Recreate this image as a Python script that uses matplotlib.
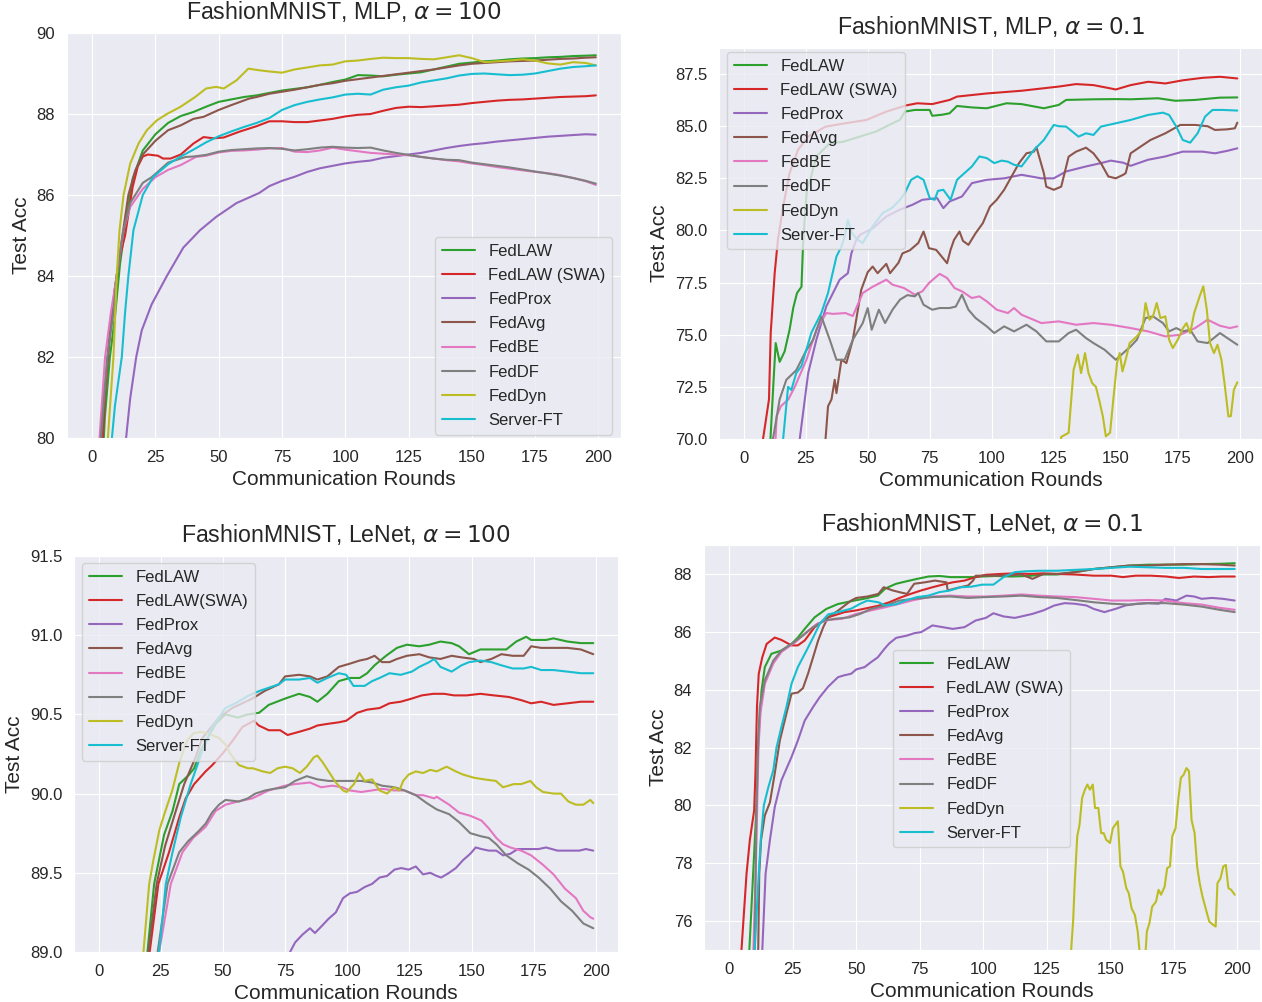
import matplotlib
matplotlib.use('Agg')
import matplotlib.pyplot as plt
import seaborn as sns

sns.set_style('darkgrid')
plt.rcParams['font.family'] = ['Liberation Sans', 'DejaVu Sans']

# ---- FashionMNIST, MLP, alpha = 100 : (round, test acc) ----
mlp100_fedlaw = [(1, 74.0), (3, 78.0), (5, 80.5), (7, 82.0), (9, 83.0), (11, 84.3), (13, 85.2), (16, 86.4), (20, 87.1),
                 (25, 87.5), (30, 87.78), (35, 87.95), (40, 88.05), (45, 88.18), (50, 88.3), (55, 88.36), (60, 88.42),
                 (65, 88.46), (70, 88.52), (75, 88.58), (80, 88.62), (85, 88.66), (90, 88.72), (95, 88.79), (100, 88.85),
                 (105, 88.96), (110, 88.95), (115, 88.93), (120, 88.97), (125, 89.0), (130, 89.03), (135, 89.1),
                 (140, 89.17), (145, 89.24), (150, 89.27), (155, 89.3), (160, 89.32), (165, 89.35), (170, 89.37),
                 (175, 89.38), (180, 89.4), (185, 89.41), (190, 89.43), (195, 89.44), (199, 89.45)]
mlp100_swa = [(1, 74.0), (3, 78.5), (5, 81.0), (7, 82.6), (9, 83.7), (11, 84.5), (13, 85.0), (16, 86.2), (18, 86.7),
              (20, 86.95), (22, 87.0), (26, 86.97), (28, 86.9), (31, 86.9), (35, 87.0), (40, 87.27), (44, 87.43),
              (48, 87.4), (52, 87.42), (58, 87.56), (65, 87.7), (70, 87.82), (75, 87.82), (80, 87.8), (85, 87.8),
              (90, 87.84), (95, 87.88), (100, 87.94), (105, 87.98), (110, 88.0), (115, 88.08), (120, 88.15),
              (125, 88.18), (130, 88.17), (135, 88.19), (140, 88.21), (145, 88.23), (150, 88.27), (155, 88.3),
              (160, 88.33), (165, 88.35), (170, 88.36), (175, 88.38), (180, 88.4), (185, 88.42), (190, 88.43),
              (195, 88.44), (199, 88.46)]
mlp100_fedprox = [(1, 68.0), (3, 70.0), (5, 72.0), (7, 74.0), (9, 75.8), (11, 77.5), (13.4, 80.0), (15, 80.97),
                  (17.4, 82.0), (19.6, 82.66), (23.5, 83.3), (29.5, 84.0), (36, 84.7), (42.6, 85.13), (49, 85.46),
                  (57, 85.8), (66, 86.05), (70, 86.22), (75, 86.35), (80, 86.45), (85, 86.57), (90, 86.66), (95, 86.72),
                  (100, 86.78), (105, 86.82), (110, 86.85), (115, 86.92), (120, 86.96), (125, 87.0), (130, 87.04),
                  (135, 87.1), (140, 87.16), (145, 87.21), (150, 87.25), (155, 87.28), (160, 87.32), (165, 87.35),
                  (170, 87.38), (175, 87.41), (180, 87.44), (185, 87.46), (190, 87.48), (195, 87.5), (199, 87.49)]
mlp100_fedavg = [(1, 74.0), (3, 79.0), (5, 81.2), (7, 82.6), (9, 83.7), (11, 84.6), (14.3, 86.0), (17, 86.6), (20, 87.0),
                 (25, 87.34), (30, 87.6), (35, 87.72), (40, 87.88), (44, 87.93), (50, 88.1), (55, 88.22), (62, 88.38),
                 (65, 88.42), (70, 88.5), (75, 88.55), (80, 88.6), (85, 88.66), (90, 88.72), (95, 88.76), (100, 88.82),
                 (105, 88.86), (110, 88.9), (115, 88.94), (120, 88.98), (125, 89.02), (130, 89.06), (135, 89.1),
                 (140, 89.15), (145, 89.2), (150, 89.24), (155, 89.26), (160, 89.28), (165, 89.3), (170, 89.31),
                 (175, 89.32), (180, 89.34), (185, 89.36), (190, 89.37), (195, 89.39), (199, 89.4)]
mlp100_fedbe = [(1, 76.0), (2.9, 80.0), (5.1, 82.0), (7.4, 83.1), (9.7, 84.0), (12.4, 85.13), (15, 85.7), (18.3, 86.0),
                (20, 86.15), (25, 86.44), (30, 86.62), (35, 86.74), (41, 86.94), (45, 86.97), (50, 87.05), (55, 87.09),
                (60, 87.1), (65, 87.12), (70, 87.15), (75, 87.16), (80, 87.07), (85, 87.06), (90, 87.1), (95, 87.17),
                (100, 87.12), (105, 87.08), (110, 87.04), (115, 87.02), (120, 87.0), (125, 86.98), (130, 86.94),
                (135, 86.9), (140, 86.86), (145, 86.83), (150, 86.78), (155, 86.74), (160, 86.69), (165, 86.65),
                (170, 86.61), (175, 86.57), (180, 86.54), (185, 86.49), (190, 86.42), (195, 86.34), (199, 86.25)]
mlp100_feddf = [(1, 75.5), (3.4, 80.0), (6, 82.0), (8.4, 83.1), (9.7, 84.0), (12.4, 85.13), (15, 85.8), (17, 86.0),
                (20, 86.3), (23.5, 86.44), (30, 86.8), (37, 86.94), (40, 86.95), (45, 86.99), (50, 87.07), (55, 87.11),
                (60, 87.13), (65, 87.15), (70, 87.16), (75, 87.14), (80, 87.1), (85, 87.13), (90, 87.17), (95, 87.19),
                (100, 87.17), (105, 87.16), (110, 87.17), (115, 87.1), (120, 87.04), (125, 86.99), (130, 86.94),
                (135, 86.9), (140, 86.87), (145, 86.86), (150, 86.8), (155, 86.76), (160, 86.72), (165, 86.68),
                (170, 86.63), (175, 86.58), (180, 86.53), (185, 86.48), (190, 86.42), (195, 86.35), (199, 86.28)]
mlp100_feddyn = [(1, 72.0), (3, 75.0), (6.2, 80.0), (8.4, 82.0), (9.7, 84.0), (10.8, 85.13), (12.4, 86.0), (15, 86.77),
                 (18.3, 87.27), (21.6, 87.6), (25.5, 87.84), (29.5, 88.0), (34.7, 88.17), (40.7, 88.42), (45, 88.63),
                 (49, 88.67), (52, 88.63), (57, 88.83), (61.7, 89.12), (66, 89.08), (70, 89.05), (75, 89.02), (80, 89.1),
                 (85, 89.15), (90, 89.2), (95, 89.22), (100, 89.3), (105, 89.32), (110, 89.36), (115, 89.39),
                 (120, 89.38), (125, 89.38), (130, 89.36), (135, 89.35), (140, 89.4), (145, 89.45), (150, 89.38),
                 (155, 89.28), (160, 89.3), (165, 89.32), (170, 89.35), (175, 89.32), (180, 89.25), (185, 89.22),
                 (190, 89.28), (195, 89.26), (199, 89.2)]
mlp100_serverft = [(1, 70.0), (3, 73.0), (5, 76.0), (7.8, 80.0), (9, 80.8), (11.7, 82.0), (13, 83.1), (14.3, 84.0),
                   (16.3, 85.13), (20, 86.0), (24, 86.44), (30, 86.76), (34.7, 86.94), (40, 87.12), (45, 87.3),
                   (50, 87.45), (55, 87.57), (60, 87.68), (65, 87.78), (70, 87.9), (75, 88.1), (80, 88.22), (85, 88.3),
                   (90, 88.36), (95, 88.41), (100, 88.48), (105, 88.5), (110, 88.48), (115, 88.6), (120, 88.66),
                   (125, 88.7), (130, 88.78), (135, 88.83), (140, 88.88), (145, 88.95), (150, 88.99), (155, 89.0),
                   (160, 88.98), (165, 88.96), (170, 88.97), (175, 89.0), (180, 89.06), (185, 89.12), (190, 89.16),
                   (195, 89.18), (199, 89.2)]

# ---- FashionMNIST, MLP, alpha = 0.1 ----
mlp01_fedlaw = [(0, 50.0), (10.8, 70.0), (12, 72.7), (12.9, 74.6), (14.5, 73.7), (16.5, 74.2), (18.5, 75.24),
                (20, 76.3), (21.5, 77.0), (23.3, 77.3), (24, 79.55), (25.5, 82.0), (27, 82.5), (29.3, 83.55),
                (34.7, 84.18), (40, 84.25), (46.8, 84.5), (53.5, 84.75), (60, 85.14), (63, 85.3), (65, 85.7),
                (69, 85.78), (75, 85.78), (76, 85.5), (80, 85.55), (83, 85.62), (86, 85.97), (92, 85.9), (98, 85.86),
                (106, 86.1), (112, 86.06), (121, 85.86), (127, 86.02), (130, 86.26), (141, 86.29), (150, 86.3),
                (156, 86.29), (167, 86.34), (174, 86.22), (182, 86.26), (192, 86.37), (199, 86.38)]
mlp01_swa = [(0, 50.0), (7.8, 70.0), (10.2, 71.9), (10.9, 75.1), (12.5, 77.96), (13.8, 79.55), (15.9, 81.15),
             (18.5, 82.75), (21.9, 83.87), (26, 84.5), (33, 84.98), (41, 85.14), (49.5, 85.3), (57.5, 85.7),
             (65.6, 86.0), (70, 86.1), (76, 86.06), (83, 86.26), (86, 86.42), (98, 86.57), (112, 86.7), (127, 86.9),
             (134, 87.02), (141, 86.97), (148, 86.81), (150, 86.76), (156, 86.97), (163, 87.13), (170, 87.05),
             (177, 87.2), (185, 87.32), (192, 87.37), (199, 87.29)]
mlp01_fedprox = [(0, 50.0), (22.6, 70.0), (26, 73.16), (29.3, 74.76), (33.3, 76.36), (38.7, 77.64), (42, 77.95),
                 (43.4, 78.9), (45.4, 79.55), (47, 79.8), (52, 80.1), (57.5, 80.67), (63, 81.0), (68, 81.23),
                 (72, 81.47), (78, 81.55), (80.5, 81.07), (83, 81.39), (88, 81.63), (92, 82.27), (98, 82.43),
                 (105, 82.5), (112, 82.67), (120, 82.5), (125, 82.5), (130, 82.83), (138, 83.07), (144, 83.23),
                 (148, 83.35), (153, 83.25), (156, 83.1), (163, 83.39), (170, 83.55), (177, 83.78), (185, 83.78),
                 (190, 83.7), (195, 83.82), (199, 83.94)]
mlp01_fedavg = [(0, 50.0), (33, 70.0), (34, 71.57), (35.4, 71.9), (36.7, 72.84), (37.4, 72.2), (39.4, 73.8),
                (41.4, 73.64), (44, 74.76), (47.4, 77.16), (50, 78.0), (52, 78.27), (54, 77.95), (57.5, 78.4),
                (59, 77.95), (62.4, 78.45), (64, 78.9), (67, 79.05), (70.4, 79.4), (72.5, 79.95), (74.7, 79.15),
                (77.6, 79.07), (79.8, 78.75), (82, 78.43), (83.4, 79.07), (84.8, 79.55), (87, 79.95), (88.4, 79.5),
                (90.6, 79.31), (93.5, 79.87), (96.4, 80.35), (99.3, 81.15), (102, 81.47), (105, 81.95), (108, 82.59),
                (111, 83.23), (114, 83.7), (117, 83.78), (118, 84.0), (121, 82.75), (122, 82.1), (125, 81.95),
                (128, 82.1), (131, 83.54), (134, 83.78), (138, 83.97), (141, 83.7), (144, 83.23), (147, 82.59),
                (150, 82.5), (153, 82.67), (154, 82.75), (156, 83.7), (160, 84.02), (164, 84.34), (170, 84.66),
                (176, 85.06), (182, 85.06), (187, 85.0), (190, 84.82), (195, 84.85), (198, 84.9), (199, 85.17)]
mlp01_fedbe = [(0, 50.0), (12, 68.0), (13.3, 71.1), (15, 71.57), (18, 71.9), (20.6, 72.5), (25.3, 73.8), (29.3, 75.24),
               (33.3, 76.04), (36, 76.0), (41, 76.04), (44, 75.9), (48, 77.0), (52, 77.3), (57.5, 77.64), (60, 77.4),
               (64.6, 77.24), (69, 76.92), (72, 77.08), (74.7, 77.48), (79, 77.92), (82, 77.72), (85, 77.24),
               (88, 77.08), (92, 76.76), (95, 76.84), (98, 76.6), (102, 76.2), (106.5, 76.04), (109, 76.28),
               (112, 75.96), (120, 75.56), (127, 75.64), (134, 75.48), (141, 75.56), (148, 75.48), (156, 75.32),
               (163, 75.16), (170, 74.92), (176, 75.0), (182, 75.32), (187, 75.72), (192, 75.43), (196, 75.32),
               (199, 75.4)]
mlp01_feddf = [(0, 50.0), (11.8, 70.0), (14.5, 71.9), (17.2, 72.84), (21.2, 73.3), (25, 74.2), (28, 74.76),
               (31.3, 75.88), (34.7, 74.76), (37.4, 73.8), (40.7, 73.8), (44, 74.76), (48, 75.56), (50, 76.28),
               (51.6, 75.24), (54.5, 76.2), (57, 75.56), (60, 76.2), (63, 76.68), (66, 76.9), (69, 76.84),
               (70.4, 77.0), (72.5, 76.44), (76, 76.2), (79, 76.28), (83, 76.28), (85.5, 76.35), (88, 76.92),
               (90.6, 76.2), (93.5, 75.8), (98, 75.4), (101, 75.08), (105, 75.4), (109, 75.16), (114, 75.48),
               (118, 75.16), (122, 74.68), (127, 74.68), (131, 75.08), (134, 75.24), (138, 74.84), (141, 74.6),
               (145.5, 74.28), (150, 73.8), (153, 74.12), (156, 74.44), (158.5, 74.76), (162, 75.8), (165, 75.88),
               (169, 75.56), (171.5, 75.16), (174.4, 75.32), (177, 75.16), (180, 75.24), (183, 74.68), (187, 74.6),
               (192, 75.08), (195, 74.84), (199, 74.52)]
mlp01_feddyn = [(0, 50.0), (120, 62.0), (128, 70.1), (131, 70.3), (133, 73.32), (134.7, 74.04), (136, 73.16),
                (137.6, 74.12), (139, 73.16), (140.5, 72.68), (142, 72.5), (143.3, 71.88), (144.8, 71.08), (146, 70.13),
                (147.7, 70.3), (149, 71.88), (150.5, 73.64), (151.6, 74.12), (152.7, 73.24), (154, 73.8), (155.6, 74.6),
                (158.5, 74.92), (160.7, 75.24), (162, 76.52), (163.6, 75.72), (165, 75.88), (166.5, 76.52), (168, 75.8),
                (170, 75.88), (171.5, 74.76), (173, 74.36), (175, 74.76), (177, 75.3), (178.5, 75.56), (180, 75.08),
                (181.6, 76.04), (183.8, 76.84), (185.3, 77.32), (186.7, 76.2), (188, 74.6), (189.6, 74.12),
                (191, 74.52), (192.6, 73.8), (194, 72.52), (195.4, 71.08), (196.4, 71.1), (197.6, 72.36), (199, 72.72)]
mlp01_serverft = [(0, 50.0), (15.9, 70.0), (17.9, 72.5), (19.2, 72.35), (21.2, 73.16), (23.3, 73.5), (27.3, 75.1),
                  (31.3, 76.04), (34, 77.0), (37.4, 78.75), (39.4, 79.23), (40.7, 79.7), (42, 80.5), (43.6, 79.87),
                  (46, 79.55), (48, 79.4), (52, 80.2), (56, 80.83), (60, 81.1), (63, 81.47), (65, 81.8), (67.5, 82.43),
                  (70, 82.6), (72.5, 82.43), (75, 81.55), (77, 81.47), (78.3, 81.9), (80.5, 81.95), (83.4, 81.47),
                  (86, 82.43), (92, 83.07), (95, 83.55), (98, 83.47), (101, 83.23), (104, 83.35), (106.5, 83.3),
                  (109, 83.15), (112, 83.07), (117, 83.86), (121, 84.34), (125, 85.06), (127, 85.0), (130, 84.98),
                  (132.5, 84.74), (135, 84.5), (138, 84.66), (141, 84.58), (144, 84.98), (150, 85.14), (156, 85.3),
                  (163, 85.54), (169, 85.65), (171.5, 85.54), (174.4, 84.98), (177, 84.34), (180, 84.21), (183, 84.66),
                  (186, 85.46), (189, 85.78), (193, 85.78), (199, 85.75)]

# ---- FashionMNIST, LeNet, alpha = 100 ----
lenet100_fedlaw = [(0, 70.0), (19.6, 89.0), (22.3, 89.43), (26.3, 89.74), (29.7, 89.89), (32.4, 90.06), (36.4, 90.12),
                   (38.4, 90.16), (41, 90.27), (47, 90.44), (51, 90.5), (56, 90.48), (60, 90.5), (64.5, 90.51),
                   (68.4, 90.56), (75, 90.6), (80.6, 90.63), (85, 90.61), (88, 90.58), (92, 90.63), (96.6, 90.71),
                   (101, 90.73), (105, 90.73), (108, 90.76), (111, 90.81), (115.6, 90.87), (120, 90.92), (124, 90.94),
                   (129, 90.93), (133, 90.94), (137.5, 90.96), (142, 90.95), (145, 90.93), (149, 90.88), (153.6, 90.91),
                   (159, 90.91), (164, 90.91), (168, 90.96), (172, 90.99), (174, 90.97), (180, 90.97), (183, 90.98),
                   (188.6, 90.96), (194, 90.95), (199, 90.95)]
lenet100_swa = [(0, 70.0), (20.5, 89.0), (24, 89.43), (28.3, 89.63), (32.4, 89.85), (35, 89.97), (38.4, 90.06),
                (43, 90.14), (45.7, 90.18), (49.7, 90.25), (53.7, 90.33), (57.8, 90.42), (62.4, 90.46), (64.4, 90.43),
                (68.4, 90.4), (73, 90.4), (76, 90.37), (80.6, 90.39), (85, 90.41), (88, 90.43), (92, 90.44),
                (96.6, 90.45), (99.6, 90.46), (104, 90.51), (108, 90.53), (113, 90.54), (117, 90.57), (121.5, 90.58),
                (126, 90.6), (130, 90.62), (134.6, 90.63), (139, 90.63), (143, 90.62), (148, 90.62), (153.6, 90.63),
                (159, 90.62), (165, 90.61), (170, 90.59), (174, 90.57), (178, 90.58), (183, 90.56), (188.6, 90.57),
                (194, 90.58), (199, 90.58)]
lenet100_fedprox = [(0, 70.0), (60, 86.0), (77, 89.0), (79, 89.06), (82, 89.11), (85, 89.15), (87, 89.12), (89.5, 89.16),
                    (92.5, 89.21), (95.4, 89.25), (98.3, 89.34), (101, 89.37), (104, 89.38), (107, 89.41), (110, 89.43),
                    (113, 89.47), (116, 89.48), (119, 89.52), (121.7, 89.53), (124.7, 89.52), (127.6, 89.54),
                    (130.5, 89.49), (133.4, 89.5), (136, 89.48), (137.8, 89.47), (141, 89.5), (143.7, 89.53),
                    (146.6, 89.58), (149.5, 89.62), (151.7, 89.66), (154, 89.65), (157, 89.64), (160, 89.64),
                    (162.7, 89.61), (165.6, 89.62), (168.6, 89.65), (173, 89.65), (177, 89.65), (180, 89.66),
                    (184.6, 89.64), (189, 89.64), (193.4, 89.64), (196, 89.65), (199, 89.64)]
lenet100_fedavg = [(0, 70.0), (20, 89.0), (23.3, 89.43), (26.7, 89.67), (31, 89.89), (34.4, 90.06), (39, 90.23),
                   (41.7, 90.35), (48.4, 90.48), (53.7, 90.54), (61.8, 90.6), (67, 90.65), (72.5, 90.69), (75, 90.74),
                   (80.6, 90.75), (85, 90.74), (88, 90.72), (92, 90.74), (96.6, 90.8), (101, 90.82), (105, 90.84),
                   (108, 90.85), (111, 90.87), (114, 90.83), (117, 90.83), (120, 90.85), (124, 90.87), (129, 90.88),
                   (133, 90.86), (137.5, 90.85), (142, 90.87), (146, 90.86), (151, 90.85), (153.6, 90.83), (158, 90.85),
                   (162, 90.88), (166.6, 90.87), (171, 90.87), (174, 90.93), (178, 90.92), (183, 90.92), (188.6, 90.92),
                   (194, 90.91), (199, 90.88)]
lenet100_fedbe = [(0, 70.0), (24.3, 89.0), (29, 89.43), (33.7, 89.63), (38, 89.72), (43, 89.79), (47, 89.89),
                  (51, 89.93), (56, 89.95), (61.8, 89.97), (68.4, 90.02), (75, 90.05), (79, 90.06), (85, 90.07),
                  (89.5, 90.04), (94, 90.05), (98, 90.04), (101, 90.02), (105.6, 90.01), (110, 90.02), (114, 90.03),
                  (119, 90.02), (123, 90.02), (127.6, 89.99), (130.5, 89.99), (135, 89.97), (136, 89.98), (141, 89.93),
                  (145, 89.88), (149.5, 89.86), (154, 89.83), (157, 89.78), (160, 89.72), (162.7, 89.68),
                  (165.6, 89.66), (170, 89.64), (174, 89.61), (178.8, 89.55), (183, 89.49), (187.6, 89.4), (192, 89.34),
                  (195, 89.26), (197.8, 89.22), (199, 89.21)]
lenet100_feddf = [(0, 70.0), (23.7, 89.0), (27.7, 89.43), (32.4, 89.63), (36, 89.7), (40, 89.76), (43, 89.81),
                  (45.6, 89.88), (48.4, 89.93), (51, 89.96), (56.4, 89.95), (60, 89.97), (63, 90.0), (67, 90.02),
                  (70.5, 90.03), (75, 90.04), (79, 90.08), (83.7, 90.11), (88, 90.09), (92.5, 90.08), (96.8, 90.08),
                  (101, 90.08), (105.6, 90.08), (110, 90.07), (114, 90.05), (119, 90.04), (123, 90.02), (127.6, 89.99),
                  (132, 89.94), (136, 89.9), (141, 89.87), (145, 89.82), (149.5, 89.75), (154, 89.73), (157, 89.72),
                  (160, 89.68), (164, 89.61), (168.6, 89.56), (173, 89.52), (177, 89.47), (181.7, 89.4), (186, 89.32),
                  (190.5, 89.26), (195, 89.18), (199, 89.15)]
lenet100_feddyn = [(0, 70.0), (18, 89.0), (20.3, 89.43), (22, 89.58), (24.4, 89.77), (26.6, 89.88), (29.6, 90.02),
                   (32.5, 90.2), (35.4, 90.33), (38, 90.38), (41, 90.39), (44, 90.38), (48.5, 90.35), (51, 90.31),
                   (53, 90.25), (56.4, 90.18), (60, 90.16), (62, 90.16), (66, 90.14), (69, 90.13), (72, 90.16),
                   (75, 90.17), (78, 90.16), (81, 90.13), (83.7, 90.17), (86.6, 90.23), (88, 90.24), (90, 90.2),
                   (92.5, 90.14), (95.4, 90.07), (98.3, 90.02), (99.8, 90.01), (102.7, 90.06), (104.9, 90.13),
                   (107, 90.08), (110, 90.09), (113, 90.02), (116, 90.0), (118.8, 90.04), (121, 90.02), (122.5, 90.08),
                   (124.7, 90.12), (127.6, 90.14), (130.5, 90.13), (133.4, 90.15), (136, 90.14), (140, 90.17),
                   (143.7, 90.14), (146.6, 90.12), (151, 90.1), (155, 90.09), (159.8, 90.08), (162.7, 90.04),
                   (167, 90.06), (170, 90.06), (173.7, 90.08), (176, 90.04), (178.8, 90.01), (183, 90.0), (186, 90.0),
                   (189, 89.95), (192, 89.93), (195, 89.93), (197.8, 89.96), (199, 89.94)]
lenet100_serverft = [(0, 70.0), (24.3, 89.0), (27, 89.43), (29.7, 89.63), (33, 89.85), (37, 90.06), (41.7, 90.27),
                     (45.7, 90.42), (51, 90.54), (55, 90.57), (60.4, 90.62), (65, 90.65), (72.5, 90.69), (75, 90.72),
                     (80.6, 90.72), (85, 90.73), (88, 90.7), (92, 90.73), (96.6, 90.76), (99.6, 90.75), (102.5, 90.68),
                     (107, 90.68), (110, 90.71), (113, 90.73), (117, 90.76), (121.5, 90.75), (126, 90.77), (129, 90.8),
                     (133, 90.83), (135, 90.85), (137.5, 90.8), (142, 90.77), (146, 90.81), (149, 90.83),
                     (153.6, 90.84), (158, 90.83), (162, 90.81), (166.6, 90.79), (171, 90.79), (174, 90.8),
                     (178, 90.78), (183, 90.78), (188.6, 90.77), (194, 90.76), (199, 90.76)]

# ---- FashionMNIST, LeNet, alpha = 0.1 ----
lenet01_fedlaw = [(0, 40.0), (7.9, 75.0), (9.4, 77.64), (10.7, 79.94), (11.4, 82.24), (12.7, 83.97), (14, 84.78),
                  (16.6, 85.24), (20.5, 85.35), (24.5, 85.58), (27, 85.8), (29.7, 86.1), (33.6, 86.5), (38.2, 86.79),
                  (42.8, 86.96), (49.3, 87.08), (53, 87.14), (58.5, 87.25), (61.5, 87.5), (65.7, 87.66), (70, 87.75),
                  (74, 87.83), (78.4, 87.91), (82.7, 87.93), (87, 87.89), (91, 87.89), (95.4, 87.89), (99.6, 87.91),
                  (105, 87.93), (111, 87.91), (118, 87.93), (123.7, 87.98), (129, 87.98), (136, 88.06), (143.5, 88.17),
                  (150.5, 88.23), (157.6, 88.29), (164.7, 88.32), (171.7, 88.32), (179, 88.32), (186, 88.34),
                  (193, 88.35), (199, 88.37)]
lenet01_swa = [(0, 40.0), (4.8, 75.0), (6.8, 77.64), (8.1, 78.8), (9.8, 79.83), (10.3, 81.1), (10.9, 83.4),
               (11.6, 84.55), (13, 85.12), (14.7, 85.58), (17.9, 85.8), (20.5, 85.72), (24.5, 85.53), (27, 85.53),
               (29.7, 85.7), (33.6, 86.16), (38.9, 86.5), (45.4, 86.68), (50, 86.74), (53.3, 86.8), (58.7, 86.9),
               (63, 87.02), (67, 87.17), (71.4, 87.31), (75.6, 87.43), (80, 87.54), (84, 87.63), (88, 87.71),
               (92.6, 87.77), (97, 87.89), (101, 87.97), (107, 88.0), (112.4, 88.02), (118, 88.0), (123.7, 88.02),
               (129, 88.0), (136, 87.98), (143.5, 87.94), (150.5, 87.94), (155, 87.89), (160, 87.94), (166, 87.94),
               (172, 87.91), (177, 87.86), (183, 87.91), (188.7, 87.89), (194, 87.91), (199, 87.91)]
lenet01_fedprox = [(0, 40.0), (13, 75.0), (14.3, 77.64), (16, 78.8), (17.9, 79.94), (20.5, 80.86), (24.5, 81.67),
                   (27, 82.24), (29.7, 82.93), (33, 83.4), (35.6, 83.74), (38.9, 84.1), (42.8, 84.43), (45, 84.49),
                   (48, 84.55), (50, 84.7), (53.3, 84.78), (55.8, 84.95), (58.5, 85.12), (61, 85.4), (63, 85.6),
                   (65.7, 85.79), (70, 85.87), (72.8, 85.95), (75.6, 85.99), (80, 86.22), (84, 86.16), (88, 86.1),
                   (92.6, 86.16), (97, 86.39), (101, 86.48), (104, 86.64), (108, 86.53), (112.4, 86.48), (115, 86.53),
                   (119.4, 86.62), (123.7, 86.74), (128, 86.91), (132, 86.99), (136, 86.97), (140.6, 86.91),
                   (143.5, 86.79), (147.7, 86.68), (152, 86.79), (156, 86.91), (160.4, 86.97), (164.7, 86.99),
                   (169, 86.97), (171.7, 87.14), (176, 87.08), (180, 87.25), (183, 87.22), (186, 87.14), (190, 87.17),
                   (194.3, 87.14), (199, 87.08)]
lenet01_fedavg = [(0, 40.0), (11.4, 75.0), (11.8, 77.64), (12.5, 78.8), (14, 79.65), (16, 80.1), (17.9, 81.1),
                  (19.9, 82.24), (22.5, 83.17), (24.5, 83.86), (27, 83.9), (29, 84.05), (31, 84.55), (33, 85.12),
                  (35, 85.7), (37, 86.16), (38.9, 86.5), (42.8, 86.73), (48, 87.08), (50, 87.17), (54.4, 87.22),
                  (58.7, 87.31), (60.8, 87.54), (64.3, 87.43), (67, 87.37), (70, 87.31), (72.8, 87.66), (77, 87.71),
                  (81, 87.77), (85.5, 87.71), (86, 87.43), (90, 87.52), (94, 87.6), (96, 87.77), (97, 87.94),
                  (101, 87.94), (108, 87.94), (115, 87.98), (119.4, 87.83), (123.7, 88.0), (129, 88.0), (136, 88.06),
                  (143.5, 88.17), (150.5, 88.23), (157.6, 88.29), (164.7, 88.29), (171.7, 88.32), (179, 88.34),
                  (186, 88.34), (193, 88.32), (199, 88.29)]
lenet01_fedbe = [(0, 40.0), (9.5, 75.0), (10.5, 78.0), (11.5, 82.0), (12.3, 83.2), (14, 84.2), (17.3, 84.9),
                 (20.5, 85.3), (24.5, 85.55), (26, 85.64), (30.4, 85.99), (34.6, 86.28), (39, 86.41), (44.5, 86.45),
                 (50, 86.62), (55.8, 86.74), (61.5, 86.85), (67, 86.97), (72.8, 87.1), (80, 87.22), (87, 87.25),
                 (94, 87.22), (101, 87.22), (108, 87.25), (115, 87.29), (122, 87.25), (129, 87.22), (136, 87.2),
                 (143.5, 87.14), (150.5, 87.08), (157.6, 87.08), (164.7, 87.1), (171.7, 87.08), (179, 86.99),
                 (186, 86.94), (193, 86.83), (199, 86.76)]
lenet01_feddf = [(0, 40.0), (10, 75.0), (10.7, 79.94), (11.4, 82.24), (12, 83.4), (14, 84.32), (17.3, 85.0),
                 (20.5, 85.35), (24.5, 85.58), (29, 85.87), (33, 86.16), (37.5, 86.39), (41.7, 86.45), (47.4, 86.5),
                 (51.6, 86.62), (55.8, 86.79), (61.5, 86.91), (67, 87.08), (72.8, 87.14), (80, 87.2), (87, 87.22),
                 (94, 87.17), (101, 87.2), (108, 87.22), (115, 87.25), (122, 87.2), (129, 87.17), (136, 87.1),
                 (143.5, 87.02), (150.5, 86.97), (157.6, 86.94), (164.7, 86.99), (171.7, 86.99), (179, 86.94),
                 (186, 86.87), (193, 86.76), (199, 86.68)]
lenet01_feddyn = [(0, 40.0), (130, 72.0), (134.6, 75.0), (135.4, 76.04), (136, 77.31), (137, 78.93), (137.9, 79.33),
                  (138.9, 80.25), (140, 80.54), (141, 80.72), (142, 80.54), (143.1, 80.72), (144, 79.91), (145.3, 79.91),
                  (146.4, 79.04), (147.4, 79.04), (148.4, 78.81), (149.9, 78.7), (151, 79.21), (152, 79.33),
                  (153, 79.45), (154, 77.89), (155, 77.71), (156.3, 77.14), (157.3, 76.96), (158.4, 76.44),
                  (159.7, 76.21), (160.8, 75.64), (162, 74.5), (163.6, 74.5), (164.4, 75.64), (165.4, 75.92),
                  (166.5, 76.5), (168, 76.67), (169, 77.08), (170, 76.91), (171.4, 77.19), (172.4, 77.83),
                  (173.5, 77.89), (174.4, 78.93), (175.7, 79.21), (176.7, 80.14), (177.8, 80.95), (178.9, 81.06),
                  (180, 81.29), (181, 81.18), (182, 79.5), (183.2, 79.04), (184.2, 77.89), (185.2, 77.31),
                  (186.3, 76.85), (187.7, 76.39), (189, 75.98), (190.5, 75.87), (191.5, 75.81), (192.2, 77.31),
                  (193.4, 77.48), (194.5, 77.89), (195.5, 77.94), (196.5, 77.14), (197.6, 77.08), (199, 76.91)]
lenet01_serverft = [(0, 40.0), (10, 75.0), (11.4, 77.3), (12.4, 78.8), (13.6, 80.0), (15.3, 80.6), (17.3, 81.2),
                    (18.6, 82.0), (20.5, 82.7), (22.5, 83.4), (24.5, 84.2), (27, 84.78), (30.4, 85.35), (33, 85.8),
                    (35.6, 86.27), (38.9, 86.6), (42.8, 86.68), (48, 86.8), (51.6, 86.97), (54.4, 87.08),
                    (58.7, 87.02), (61.5, 86.91), (65.7, 86.95), (70, 87.1), (74, 87.2), (78.4, 87.25), (82.7, 87.37),
                    (87, 87.43), (91, 87.54), (95.4, 87.56), (99.6, 87.63), (104, 87.63), (108, 87.89), (112.4, 88.06),
                    (116.6, 88.09), (122, 88.11), (129, 88.11), (136, 88.14), (143.5, 88.17), (150.5, 88.21),
                    (157.6, 88.25), (164.7, 88.23), (171.7, 88.21), (179, 88.21), (186, 88.17), (193, 88.17),
                    (199, 88.17)]

labels = ['FedLAW', 'FedLAW (SWA)', 'FedProx', 'FedAvg', 'FedBE', 'FedDF', 'FedDyn', 'Server-FT']
labels_lenet100 = ['FedLAW', 'FedLAW(SWA)', 'FedProx', 'FedAvg', 'FedBE', 'FedDF', 'FedDyn', 'Server-FT']
colors = ['tab:green', 'tab:red', 'tab:purple', 'tab:brown', 'tab:pink', 'tab:gray', 'tab:olive', 'tab:cyan']

fig = plt.figure(figsize=(12.62, 10.02), dpi=100)


def draw(rect, series, names, title, ylim, yticks, leg_anchor):
    ax = fig.add_axes(rect)
    for pts, name, c in zip(series, names, colors):
        ax.plot([p[0] for p in pts], [p[1] for p in pts], color=c, label=name, linewidth=1.5)
    ax.set_xlim(-9.95, 208.95)
    ax.set_ylim(*ylim)
    ax.set_xticks(range(0, 201, 25))
    ax.set_yticks(yticks)
    ax.tick_params(labelsize=12, pad=5)
    ax.set_title(title, fontsize=16.7, pad=10)
    ax.set_xlabel('Communication Rounds', fontsize=15, labelpad=4)
    ax.set_ylabel('Test Acc', fontsize=15, labelpad=4)
    ax.legend(loc='upper left', bbox_to_anchor=leg_anchor, borderaxespad=0, fontsize=12, labelspacing=0.55)
    return ax


W, H = 1262.0, 1002.0
draw([67 / W, 564 / H, 554 / W, 405 / H],
     [mlp100_fedlaw, mlp100_swa, mlp100_fedprox, mlp100_fedavg, mlp100_fedbe, mlp100_feddf, mlp100_feddyn,
      mlp100_serverft],
     labels, r'FashionMNIST, MLP, $\alpha = 100$', (80, 90), [80, 82, 84, 86, 88, 90], (0.664, 0.496))
draw([719 / W, 563 / H, 543 / W, 391 / H],
     [mlp01_fedlaw, mlp01_swa, mlp01_fedprox, mlp01_fedavg, mlp01_fedbe, mlp01_feddf, mlp01_feddyn, mlp01_serverft],
     labels, r'FashionMNIST, MLP, $\alpha = 0.1$', (70, 88.75), [70, 72.5, 75, 77.5, 80, 82.5, 85, 87.5],
     (0.015, 0.99))
draw([74 / W, 50 / H, 544 / W, 396 / H],
     [lenet100_fedlaw, lenet100_swa, lenet100_fedprox, lenet100_fedavg, lenet100_fedbe, lenet100_feddf,
      lenet100_feddyn, lenet100_serverft],
     labels_lenet100, r'FashionMNIST, LeNet, $\alpha = 100$', (89.0, 91.5), [89.0, 89.5, 90.0, 90.5, 91.0, 91.5],
     (0.015, 0.982))
draw([704 / W, 52 / H, 556 / W, 405 / H],
     [lenet01_fedlaw, lenet01_swa, lenet01_fedprox, lenet01_fedavg, lenet01_fedbe, lenet01_feddf, lenet01_feddyn,
      lenet01_serverft],
     labels, r'FashionMNIST, LeNet, $\alpha = 0.1$', (75, 89), [76, 78, 80, 82, 84, 86, 88], (0.34, 0.741))

fig.savefig('out.png', dpi=100)
